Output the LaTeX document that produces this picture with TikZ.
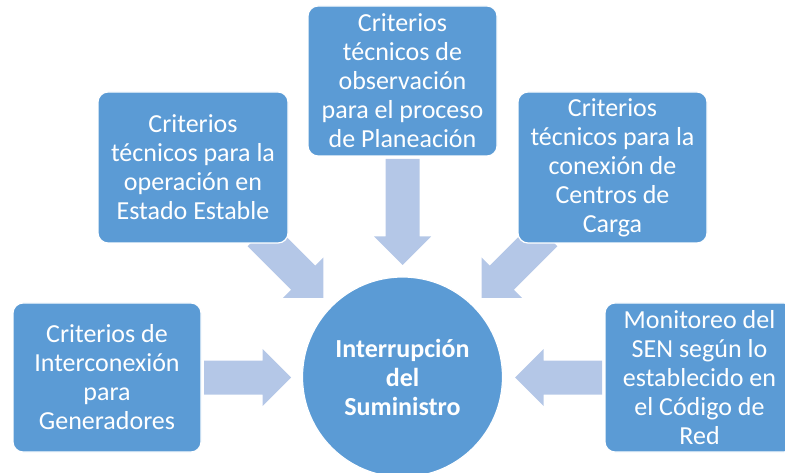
\documentclass[tikz,border=0pt]{standalone}
\usepackage{fontspec}
\setmainfont{Carlito}
\usetikzlibrary{calc}
\definecolor{boxblue}{HTML}{5B9BD5}
\definecolor{arrowblue}{HTML}{B4C7E7}
\tikzset{
  box/.style={rectangle, rounded corners=10pt, fill=boxblue, draw=white, line width=1.2pt,
    text=white, align=center, inner sep=0pt, font=\fontsize{26}{29}\selectfont},
  hub/.style={circle, fill=boxblue, draw=white, line width=1.2pt, minimum size=200pt,
    text=white, align=center, inner sep=0pt, font=\fontsize{26}{29}\selectfont\bfseries},
  blockarrow/.style={fill=arrowblue, draw=none}
}
% \barrow{tail}{tip}: block arrow, shaft half-width 17, head half-width and length 28.5
\newcommand{\barrow}[2]{%
  \fill[blockarrow]
    ($(#1)!17pt!90:(#2)$) --
    ($($(#2)!28.5pt!(#1)$)!17pt!-90:(#1)$) --
    ($($(#2)!28.5pt!(#1)$)!28.5pt!-90:(#1)$) --
    (#2) --
    ($($(#2)!28.5pt!(#1)$)!28.5pt!90:(#1)$) --
    ($($(#2)!28.5pt!(#1)$)!17pt!90:(#1)$) --
    ($(#1)!17pt!-90:(#2)$) -- cycle;}
\begin{document}
\begin{tikzpicture}[x=1pt,y=-1pt]
\useasboundingbox (0,0) rectangle (785,473);
% arrow end points
\coordinate (aT1) at (402.5,159);   \coordinate (aT2) at (402.5,265);
\coordinate (aLU1) at (259.7,234.2); \coordinate (aLU2) at (323.3,297.8);
\coordinate (aRU1) at (545.3,234.2); \coordinate (aRU2) at (481.7,297.8);
\coordinate (aL1) at (204,377.5);   \coordinate (aL2) at (291,377.5);
\coordinate (aR1) at (602,377.5);   \coordinate (aR2) at (515,377.5);
\barrow{aT1}{aT2}
\barrow{aLU1}{aLU2}
\barrow{aRU1}{aRU2}
\barrow{aL1}{aL2}
\barrow{aR1}{aR2}
% hub
\node[hub] (hub) at (402.5,377) {Interrupción\\del\\Suministro};
% boxes
\node[box, minimum width=189pt, minimum height=150pt] (top) at (402.5,81)
  {Criterios\\técnicos de\\observación\\para el proceso\\de Planeación};
\node[box, minimum width=190pt, minimum height=151pt] (lu) at (193,167.5)
  {Criterios\\técnicos para la\\operación en\\Estado Estable};
\node[box, minimum width=189pt, minimum height=151pt] (ru) at (612.5,167.5)
  {Criterios\\técnicos para la\\conexión de\\Centros de\\Carga};
\node[box, minimum width=188pt, minimum height=149pt] (ll) at (107,377.5)
  {Criterios de\\Interconexión\\para\\Generadores};
\node[box, minimum width=189pt, minimum height=149pt] (rl) at (699.5,377.5)
  {Monitoreo del\\SEN según lo\\establecido en\\el Código de\\Red};
\end{tikzpicture}
\end{document}
